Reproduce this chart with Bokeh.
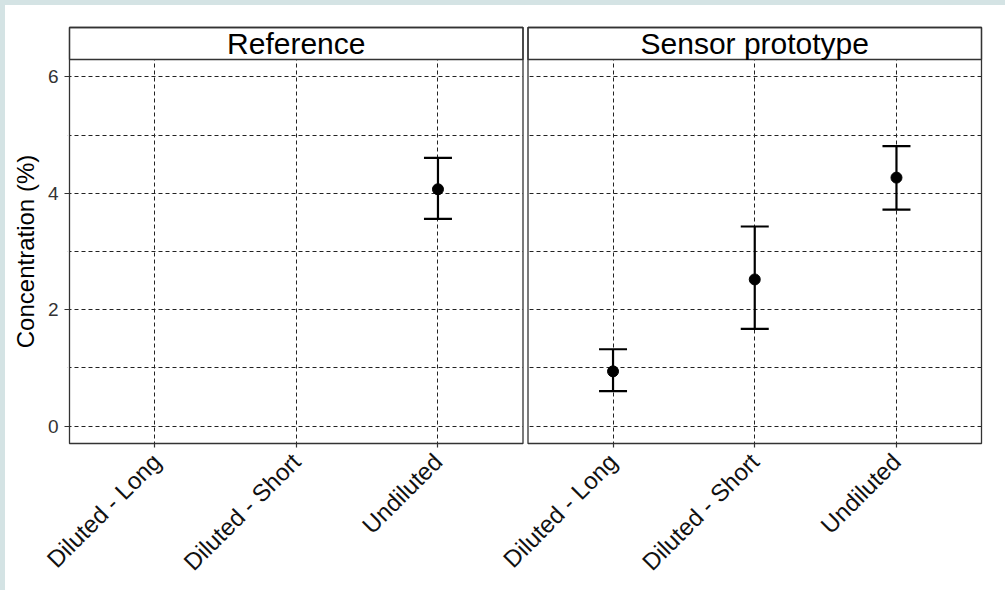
import math
from bokeh.plotting import figure
from bokeh.layouts import row
from bokeh.models import (ColumnDataSource, Whisker, TeeHead, FixedTicker, FactorRange,
                          Range1d, BoxAnnotation, Label)
from bokeh.embed import file_html
from bokeh.resources import INLINE

# ---------------- data ----------------
categories = ["Diluted - Long", "Diluted - Short", "Undiluted"]
panel_titles = ["Reference", "Sensor prototype"]

ref_category = ["Undiluted"]
ref_mean = [4.07]
ref_lower = [3.56]
ref_upper = [4.61]

sensor_category = ["Diluted - Long", "Diluted - Short", "Undiluted"]
sensor_mean = [0.94, 2.52, 4.27]
sensor_lower = [0.60, 1.67, 3.72]
sensor_upper = [1.32, 3.43, 4.81]

y_ticks = [0, 2, 4, 6]
y_grid_lines = [0, 1, 2, 3, 4, 5, 6]
y_title = "Concentration (%)"

# ---------------- layout / style ----------------
FONT = "Liberation Sans"
EDGE = "#333333"
H = 585
FRAME_W = 916          # main frame width (px)
GAP_PX, MARGIN_PX = 5, 2
PANEL_H, STRIP_H = 384, 32

n = len(categories)
# x: synthetic units of the nested factor range
u = (FRAME_W - GAP_PX - 2 * MARGIN_PX) / (2 * n + 0.4)       # px per category
gp = 0.2 + GAP_PX / u
mx = MARGIN_PX / u
p1_left, p1_right = -0.1, n + 0.1
p2_left, p2_right = n + gp - 0.1, 2 * n + gp + 0.1
panel_bounds = [(p1_left, p1_right), (p2_left, p2_right)]

# y: data units
y_lo, y_hi = 0, 6
pad = 0.05 * (y_hi - y_lo)
ylo, yhi = y_lo - pad, y_hi + pad
v = PANEL_H / (yhi - ylo)
strip_top = yhi + STRIP_H / v
my = MARGIN_PX / v
Y0, Y1 = ylo - my, strip_top + my

factors = [(t, c) for t in panel_titles for c in categories]

p = figure(x_range=FactorRange(factors=factors, group_padding=gp, factor_padding=0,
                               range_padding=0.1 + mx, range_padding_units="absolute"),
           y_range=Range1d(Y0, Y1),
           width=964, height=H, min_border_left=26, min_border_right=22,
           min_border_top=20, min_border_bottom=145,
           output_backend="svg", toolbar_location=None)
p.background_fill_color = "white"
p.border_fill_color = "white"
p.outline_line_color = None

for g in (p.xgrid, p.ygrid):
    g.grid_line_color = "#222222"
    g.grid_line_dash = "4 3"
    g.grid_line_width = 1
p.ygrid.ticker = FixedTicker(ticks=y_grid_lines)

ax = p.xaxis[0]
ax.axis_line_color = None
ax.separator_line_color = None
ax.major_tick_line_color = EDGE
ax.major_tick_line_width = 1.2
ax.major_tick_out = 2
ax.major_tick_in = 2
ax.major_label_orientation = math.pi / 4
ax.major_label_text_font = FONT
ax.major_label_text_font_size = "24px"
ax.major_label_text_color = "#111111"
ax.major_label_standoff = 10
ax.group_text_font_size = "0px"
ax.group_text_alpha = 0

ay = p.yaxis[0]
ay.ticker = FixedTicker(ticks=y_ticks)
ay.axis_line_color = None
ay.major_tick_line_color = EDGE
ay.major_tick_line_width = 1.2
ay.major_tick_out = 3
ay.major_tick_in = 2
ay.minor_tick_line_color = None
ay.major_label_text_font = FONT
ay.major_label_text_font_size = "19px"
ay.major_label_text_color = "#333333"
ay.major_label_standoff = 6

# white covers for the margins and the gap between the panels (hide grid there)
x_far0, x_far1 = -10, 2 * n + gp + 10
covers = [(x_far0, p1_left, Y0 - 1, Y1 + 1), (p1_right, p2_left, Y0 - 1, Y1 + 1),
          (p2_right, x_far1, Y0 - 1, Y1 + 1), (x_far0, x_far1, Y0 - 1, ylo),
          (x_far0, x_far1, strip_top, Y1 + 1)]
for l, r, b, t in covers:
    p.add_layout(BoxAnnotation(left=l, right=r, bottom=b, top=t, fill_color="white",
                               fill_alpha=1.0, line_color=None, level="glyph"))

for title, (l, r) in zip(panel_titles, panel_bounds):
    p.add_layout(BoxAnnotation(left=l, right=r, bottom=yhi, top=strip_top,
                               fill_color="white", fill_alpha=1.0, line_color=EDGE,
                               line_alpha=1.0, line_width=1.3, level="glyph"))
    p.add_layout(BoxAnnotation(left=l, right=r, bottom=ylo, top=strip_top,
                               fill_alpha=0.0, line_color=EDGE, line_alpha=1.0,
                               line_width=1.3, level="glyph"))
    p.add_layout(Label(x=(l + r) / 2, y=(yhi + strip_top) / 2, text=title,
                       text_align="center", text_baseline="middle", text_font=FONT,
                       text_font_size="30px", text_color="black"))

for title, cats, mean, lower, upper in [
        (panel_titles[0], ref_category, ref_mean, ref_lower, ref_upper),
        (panel_titles[1], sensor_category, sensor_mean, sensor_lower, sensor_upper)]:
    src = ColumnDataSource(dict(x=[(title, c) for c in cats], mean=mean,
                                lower=lower, upper=upper))
    w = Whisker(base="x", upper="upper", lower="lower", source=src,
                line_color="black", line_width=2.2, level="annotation",
                upper_head=TeeHead(size=28, line_color="black", line_width=2.2),
                lower_head=TeeHead(size=28, line_color="black", line_width=2.2))
    p.add_layout(w)
    r_ = p.scatter("x", "mean", source=src, size=11, color="black")
    r_.level = "annotation"

# narrow figure holding the y-axis title, aligned with the panel area
lab = figure(x_range=Range1d(0, 36), y_range=Range1d(Y0, Y1), width=36, height=H,
             min_border_left=0, min_border_right=0, min_border_top=20,
             min_border_bottom=145, x_axis_location=None, y_axis_location=None,
             output_backend="svg", toolbar_location=None)
lab.grid.visible = False
lab.outline_line_color = None
lab.background_fill_color = "white"
lab.border_fill_color = "white"
lab.add_layout(Label(x=20, y=(y_lo + y_hi) / 2, angle=math.pi / 2, text=y_title,
                     text_align="center", text_baseline="middle", text_font=FONT,
                     text_font_size="24px", text_color="black"))

layout = row(lab, p, spacing=0)

html = file_html(layout, INLINE, title="chart")
extra_css = ("<style>html, body {background-color:#ffffff !important; overflow:hidden;} "
             "body {margin:0 !important; padding:0 !important; "
             "border-top:5px solid #d4e3e4; border-left:5px solid #d4e3e4;}</style>")
html = html.replace("</head>", extra_css + "</head>", 1)
open("out.html", "w").write(html)
